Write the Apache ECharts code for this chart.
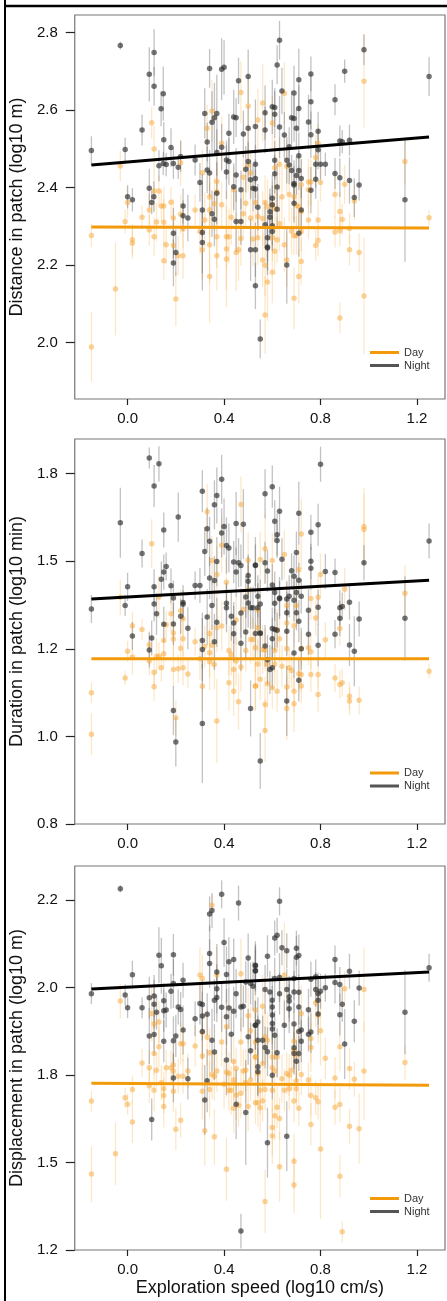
<!DOCTYPE html>
<html><head><meta charset="utf-8">
<script src="https://cdn.jsdelivr.net/npm/echarts@6/dist/echarts.min.js"></script>
<style>html,body{margin:0;padding:0;background:#fff}#c{width:447px;height:1301px}</style>
</head><body><div id="c"></div>
<script>
// ---- Data: each point = [exploration speed, mean, half error bar] ----
const xTicks = [0.0, 0.4, 0.8, 1.2];
const xTickLabels = ['0.0', '0.4', '0.8', '1.2'];
const yTicks1 = [2.0, 2.2, 2.4, 2.6, 2.8];
const yTickLabels1 = ['2.0', '2.2', '2.4', '2.6', '2.8'];
const yTicks2 = [0.75, 1.0, 1.25, 1.5, 1.75];
const yTickLabels2 = ['0.8', '1.0', '1.2', '1.5', '1.8'];
const yTicks3 = [1.25, 1.5, 1.75, 2.0, 2.25];
const yTickLabels3 = ['1.2', '1.5', '1.8', '2.0', '2.2'];
const yTitles = ['Distance in patch (log10 m)', 'Duration in patch (log10 min)', 'Displacement in patch (log10 m)'];
const xTitle = 'Exploration speed (log10 cm/s)';
const groups = ['Day', 'Night'];

const distNight = [[-0.15,2.495,0.037],[-0.03,2.766,0.01],[-0.01,2.498,0.03],[0.0,2.376,0.03],[0.02,2.368,0.03],[0.06,2.548,0.04],[0.09,2.692,0.07],[0.11,2.748,0.06],[0.11,2.661,0.05],[0.148,2.642,0.07],[0.139,2.603,0.045],[0.15,2.523,0.045],[0.09,2.398,0.05],[0.10,2.361,0.03],[0.109,2.376,0.04],[0.13,2.456,0.04],[0.148,2.462,0.03],[0.16,2.459,0.03],[0.18,2.503,0.05],[0.19,2.462,0.04],[0.21,2.452,0.03],[0.22,2.48,0.04],[0.19,2.282,0.065],[0.20,2.232,0.06],[0.19,2.205,0.06],[0.23,2.352,0.045],[0.23,2.327,0.04],[0.25,2.321,0.06],[0.28,2.471,0.04],[0.30,2.413,0.05],[0.31,2.342,0.07],[0.31,2.284,0.15],[0.31,2.258,0.08],[0.32,2.591,0.065],[0.33,2.517,0.05],[0.33,2.445,0.06],[0.34,2.437,0.06],[0.34,2.707,0.05],[0.35,2.568,0.08],[0.36,2.58,0.09],[0.37,2.591,0.1],[0.35,2.332,0.06],[0.36,2.318,0.07],[0.37,2.49,0.06],[0.37,2.385,0.08],[0.39,2.705,0.08],[0.40,2.71,0.07],[0.39,2.504,0.06],[0.41,2.471,0.05],[0.42,2.467,0.06],[0.41,2.44,0.07],[0.42,2.54,0.05],[0.44,2.582,0.07],[0.45,2.58,0.05],[0.44,2.402,0.06],[0.45,2.432,0.07],[0.45,2.312,0.08],[0.47,2.312,0.06],[0.46,2.675,0.06],[0.48,2.538,0.06],[0.47,2.394,0.05],[0.49,2.447,0.06],[0.50,2.686,0.07],[0.50,2.553,0.06],[0.51,2.239,0.08],[0.50,2.467,0.05],[0.52,2.398,0.06],[0.51,2.42,0.05],
[0.63,2.78,0.05],[0.62,2.716,0.05],[0.64,2.649,0.06],[0.69,2.644,0.07],[0.71,2.678,0.08],[0.76,2.693,0.045],[0.76,2.621,0.07],[0.71,2.604,0.06],[0.69,2.578,0.06],[0.70,2.553,0.05],[0.68,2.58,0.07],[0.75,2.569,0.07],[0.76,2.536,0.06],[0.79,2.545,0.05],[0.63,2.556,0.08],[0.65,2.535,0.06],[0.60,2.608,0.07],[0.61,2.589,0.06],[0.57,2.593,0.07],[0.57,2.548,0.06],[0.53,2.557,0.07],[0.61,2.606,0.05],[0.86,2.626,0.04],[0.90,2.70,0.03],[0.98,2.755,0.04],[1.25,2.686,0.05],[0.88,2.52,0.04],[0.89,2.518,0.03],[0.92,2.522,0.04],[0.79,2.497,0.05],[0.78,2.46,0.06],[0.80,2.46,0.04],[0.82,2.46,0.03],[0.78,2.421,0.05],[0.86,2.436,0.04],[0.88,2.425,0.05],[0.92,2.418,0.06],[0.96,2.406,0.04],[0.94,2.374,0.05],[1.15,2.368,0.16],[0.71,2.482,0.06],[0.71,2.444,0.05],[0.70,2.431,0.05],[0.67,2.505,0.05],[0.66,2.47,0.06],[0.67,2.458,0.05],[0.68,2.444,0.04],[0.72,2.423,0.05],[0.76,2.393,0.06],[0.69,2.41,0.06],[0.69,2.406,0.05],[0.69,2.359,0.05],[0.72,2.342,0.06],[0.71,2.282,0.06],[0.61,2.47,0.05],[0.61,2.435,0.05],[0.62,2.401,0.06],[0.60,2.372,0.06],[0.60,2.355,0.05],[0.59,2.337,0.06],[0.62,2.344,0.05],[0.59,2.323,0.06],[0.60,2.301,0.05],[0.60,2.286,0.05],[0.58,2.244,0.07],[0.66,2.20,0.1],[0.55,2.009,0.05],[0.53,2.146,0.06],[0.54,2.349,0.06],[0.53,2.396,0.05],[0.53,2.423,0.05],[0.53,2.46,0.05],[0.53,2.239,0.07],[0.58,2.27,0.06],[0.58,2.246,0.06],[0.57,2.304,0.06]];
const distDay = [[-0.15,2.276,0.03],[-0.15,1.988,0.09],[-0.05,2.138,0.12],[-0.03,2.455,0.04],[-0.01,2.312,0.03],[0.0,2.361,0.04],[0.02,2.265,0.04],[0.02,2.256,0.04],[0.06,2.323,0.03],[0.09,2.342,0.04],[0.10,2.567,0.04],[0.11,2.499,0.06],[0.11,2.391,0.05],[0.13,2.391,0.04],[0.12,2.311,0.05],[0.09,2.29,0.04],[0.11,2.273,0.05],[0.14,2.352,0.04],[0.15,2.352,0.05],[0.15,2.31,0.06],[0.16,2.252,0.05],[0.15,2.211,0.05],[0.18,2.362,0.04],[0.19,2.321,0.05],[0.19,2.25,0.06],[0.20,2.112,0.07],[0.21,2.224,0.05],[0.23,2.224,0.06],[0.22,2.464,0.06],[0.22,2.331,0.05],[0.23,2.293,0.05],[0.28,2.342,0.04],[0.30,2.286,0.06],[0.31,2.239,0.08],[0.31,2.438,0.06],[0.32,2.316,0.07],[0.33,2.553,0.06],[0.34,2.375,0.08],[0.34,2.342,0.07],[0.35,2.597,0.08],[0.34,2.252,0.1],[0.34,2.17,0.12],[0.36,2.358,0.07],[0.37,2.415,0.06],[0.37,2.389,0.06],[0.37,2.273,0.08],[0.37,2.224,0.09],[0.39,2.514,0.07],[0.39,2.355,0.06],[0.41,2.273,0.08],[0.42,2.273,0.07],[0.41,2.241,0.15],[0.41,2.215,0.08],[0.43,2.323,0.07],[0.44,2.394,0.06],[0.45,2.232,0.1],[0.46,2.239,0.08],[0.47,2.645,0.08],[0.47,2.268,0.07],[0.48,2.426,0.07],[0.49,2.359,0.06],[0.50,2.61,0.08],[0.50,2.457,0.07],[0.51,2.437,0.06],[0.51,2.321,0.07],[0.53,2.361,0.06],[0.52,2.267,0.07],[0.48,2.332,0.06],
[0.65,2.643,0.08],[0.56,2.618,0.1],[0.60,2.566,0.07],[0.54,2.574,0.08],[0.61,2.451,0.08],[0.63,2.46,0.07],[0.66,2.454,0.07],[0.78,2.477,0.06],[0.79,2.514,0.05],[0.76,2.414,0.06],[0.75,2.414,0.06],[0.80,2.413,0.05],[0.72,2.407,0.07],[0.64,2.376,0.08],[0.67,2.382,0.07],[0.69,2.376,0.06],[0.75,2.394,0.06],[0.90,2.408,0.05],[0.86,2.382,0.06],[0.94,2.365,0.05],[0.98,2.674,0.12],[1.15,2.467,0.06],[1.25,2.322,0.02],[0.88,2.338,0.05],[0.89,2.317,0.04],[0.57,2.361,0.07],[0.58,2.35,0.07],[0.60,2.355,0.06],[0.61,2.345,0.06],[0.70,2.354,0.06],[0.71,2.35,0.05],[0.72,2.338,0.06],[0.75,2.316,0.05],[0.79,2.316,0.05],[0.63,2.306,0.07],[0.60,2.299,0.06],[0.56,2.32,0.07],[0.54,2.325,0.06],[0.68,2.287,0.06],[0.69,2.275,0.05],[0.70,2.276,0.05],[0.72,2.286,0.05],[0.86,2.285,0.04],[0.88,2.288,0.04],[0.92,2.294,0.04],[0.54,2.27,0.07],[0.60,2.27,0.06],[0.62,2.265,0.06],[0.65,2.252,0.07],[0.78,2.251,0.04],[0.79,2.263,0.04],[0.92,2.239,0.04],[0.96,2.232,0.05],[0.61,2.235,0.06],[0.56,2.213,0.07],[0.57,2.199,0.08],[0.60,2.181,0.08],[0.72,2.209,0.06],[0.66,2.213,0.07],[0.71,2.17,0.07],[0.58,2.156,0.1],[0.69,2.114,0.08],[0.57,2.071,0.1],[0.88,2.063,0.04],[0.98,2.12,0.15]];

const durNight = [[-0.15,1.364,0.04],[-0.03,1.61,0.1],[-0.01,1.374,0.03],[0.0,1.427,0.04],[0.02,1.287,0.04],[0.06,1.522,0.04],[0.09,1.795,0.03],[0.13,1.778,0.05],[0.11,1.715,0.06],[0.15,1.589,0.05],[0.21,1.626,0.07],[0.16,1.485,0.04],[0.15,1.469,0.05],[0.14,1.449,0.05],[0.11,1.427,0.05],[0.11,1.378,0.05],[0.12,1.35,0.06],[0.10,1.281,0.05],[0.09,1.247,0.05],[0.15,1.32,0.05],[0.18,1.43,0.05],[0.19,1.395,0.05],[0.23,1.382,0.05],[0.23,1.377,0.04],[0.22,1.343,0.05],[0.19,1.321,0.06],[0.25,1.309,0.06],[0.19,1.074,0.07],[0.20,0.984,0.07],[0.28,1.431,0.04],[0.30,1.431,0.05],[0.31,1.70,0.06],[0.33,1.593,0.06],[0.34,1.557,0.07],[0.32,1.528,0.07],[0.37,1.688,0.08],[0.36,1.661,0.07],[0.39,1.734,0.07],[0.40,1.599,0.08],[0.39,1.581,0.07],[0.41,1.545,0.08],[0.42,1.538,0.07],[0.45,1.608,0.09],[0.48,1.606,0.1],[0.37,1.499,0.07],[0.34,1.452,0.06],[0.36,1.445,0.07],[0.44,1.498,0.06],[0.46,1.496,0.07],[0.47,1.488,0.06],[0.45,1.469,0.07],[0.35,1.374,0.07],[0.33,1.341,0.08],[0.31,1.274,0.08],[0.31,1.248,0.09],[0.36,1.27,0.08],[0.37,1.326,0.07],[0.41,1.38,0.06],[0.41,1.367,0.07],[0.43,1.343,0.07],[0.44,1.324,0.06],[0.44,1.293,0.08],[0.47,1.352,0.07],[0.47,1.266,0.08],[0.50,1.459,0.06],[0.50,1.443,0.07],[0.49,1.398,0.06],[0.50,1.381,0.07],[0.53,1.489,0.08],[0.51,1.367,0.06],[0.52,1.367,0.06],[0.54,1.367,0.07],[0.49,1.298,0.08],[0.53,1.294,0.07],[0.55,1.294,0.07],[0.31,1.037,0.17],[0.51,1.08,0.08],[0.55,0.93,0.08],
[0.60,1.713,0.06],[0.57,1.693,0.07],[0.63,1.643,0.07],[0.61,1.614,0.06],[0.62,1.576,0.06],[0.62,1.559,0.05],[0.71,1.637,0.09],[0.80,1.777,0.05],[0.79,1.604,0.06],[0.76,1.583,0.05],[0.70,1.525,0.06],[0.64,1.506,0.06],[0.57,1.496,0.06],[0.58,1.472,0.06],[0.53,1.488,0.06],[0.76,1.50,0.05],[0.76,1.48,0.06],[0.82,1.471,0.05],[0.86,1.468,0.04],[0.98,1.496,0.05],[1.25,1.558,0.05],[0.68,1.473,0.05],[0.69,1.457,0.06],[0.71,1.446,0.05],[0.60,1.432,0.06],[0.70,1.411,0.05],[0.72,1.40,0.05],[0.61,1.411,0.06],[0.61,1.38,0.05],[0.63,1.395,0.06],[0.63,1.393,0.05],[0.67,1.40,0.06],[0.66,1.392,0.05],[0.69,1.389,0.06],[0.54,1.40,0.06],[0.55,1.378,0.07],[0.66,1.353,0.06],[0.70,1.353,0.05],[0.71,1.329,0.06],[0.75,1.36,0.06],[0.79,1.369,0.05],[0.88,1.367,0.05],[0.89,1.371,0.04],[0.88,1.337,0.05],[0.92,1.383,0.05],[0.96,1.335,0.05],[1.15,1.337,0.12],[0.86,1.292,0.04],[0.92,1.261,0.06],[0.94,1.243,0.1],[0.79,1.26,0.06],[0.75,1.292,0.06],[0.69,1.238,0.07],[0.72,1.25,0.06],[0.66,1.30,0.07],[0.60,1.308,0.06],[0.61,1.305,0.06],[0.62,1.303,0.05],[0.55,1.295,0.07],[0.57,1.258,0.06],[0.60,1.279,0.06],[0.58,1.219,0.07],[0.59,1.191,0.07],[0.60,1.196,0.06],[0.71,1.16,0.06],[0.66,1.101,0.1]];
const durDay = [[-0.15,1.125,0.03],[-0.15,1.006,0.06],[-0.03,1.397,0.05],[-0.01,1.167,0.02],[0.0,1.243,0.03],[0.02,1.316,0.04],[0.02,1.227,0.05],[0.06,1.305,0.03],[0.09,1.262,0.04],[0.09,1.215,0.04],[0.10,1.55,0.07],[0.11,1.183,0.04],[0.11,1.142,0.04],[0.12,1.229,0.05],[0.13,1.229,0.04],[0.13,1.398,0.06],[0.14,1.196,0.04],[0.15,1.274,0.05],[0.15,1.236,0.04],[0.16,1.319,0.04],[0.18,1.35,0.05],[0.19,1.295,0.05],[0.19,1.278,0.05],[0.19,1.191,0.05],[0.21,1.193,0.04],[0.20,1.053,0.05],[0.22,1.359,0.06],[0.23,1.336,0.05],[0.22,1.252,0.05],[0.23,1.279,0.05],[0.23,1.196,0.05],[0.25,1.178,0.04],[0.28,1.27,0.04],[0.30,1.222,0.06],[0.31,1.143,0.07],[0.32,1.257,0.06],[0.33,1.641,0.08],[0.34,1.294,0.06],[0.34,1.239,0.07],[0.35,1.502,0.07],[0.34,1.213,0.08],[0.36,1.205,0.07],[0.35,1.26,0.06],[0.37,1.462,0.08],[0.37,1.31,0.07],[0.37,1.044,0.12],[0.39,1.546,0.08],[0.39,1.315,0.07],[0.41,1.44,0.07],[0.42,1.245,0.07],[0.43,1.234,0.06],[0.44,1.191,0.07],[0.45,1.215,0.07],[0.42,1.153,0.08],[0.44,1.129,0.07],[0.46,1.099,0.08],[0.47,1.662,0.08],[0.45,1.332,0.07],[0.48,1.362,0.06],[0.47,1.198,0.07],[0.50,1.503,0.08],[0.50,1.418,0.07],[0.49,1.245,0.06],[0.51,1.277,0.07],[0.52,1.277,0.06],[0.53,1.253,0.07],[0.53,1.144,0.07],[0.54,1.36,0.07],[0.55,1.505,0.08],
[0.57,1.536,0.1],[0.60,1.502,0.08],[0.65,1.519,0.07],[0.72,1.578,0.1],[0.71,1.476,0.07],[0.80,1.462,0.06],[0.98,1.599,0.11],[0.98,1.591,0.1],[0.90,1.42,0.06],[1.15,1.409,0.08],[1.25,1.186,0.02],[0.79,1.397,0.06],[0.76,1.394,0.06],[0.78,1.338,0.05],[0.88,1.308,0.05],[0.82,1.276,0.05],[0.66,1.374,0.07],[0.70,1.374,0.06],[0.69,1.316,0.06],[0.66,1.324,0.07],[0.62,1.304,0.06],[0.63,1.279,0.07],[0.54,1.31,0.07],[0.56,1.248,0.07],[0.57,1.247,0.06],[0.61,1.245,0.06],[0.66,1.25,0.06],[0.72,1.25,0.05],[0.75,1.253,0.05],[0.76,1.242,0.05],[0.54,1.207,0.07],[0.58,1.207,0.06],[0.61,1.207,0.06],[0.64,1.20,0.06],[0.67,1.196,0.06],[0.68,1.188,0.05],[0.71,1.179,0.05],[0.72,1.177,0.05],[0.76,1.177,0.05],[0.79,1.177,0.04],[0.86,1.167,0.04],[0.88,1.148,0.04],[0.89,1.153,0.04],[0.53,1.144,0.07],[0.55,1.163,0.06],[0.58,1.15,0.07],[0.60,1.139,0.06],[0.62,1.129,0.06],[0.66,1.141,0.06],[0.69,1.129,0.06],[0.72,1.144,0.05],[0.57,1.091,0.08],[0.79,1.12,0.05],[0.92,1.115,0.04],[0.92,1.101,0.04],[0.96,1.103,0.04],[0.66,1.08,0.09],[0.69,1.093,0.08],[0.57,1.017,0.09]];

const dispNight = [[-0.15,1.983,0.03],[-0.03,2.283,0.01],[-0.01,1.979,0.03],[0.0,1.943,0.03],[0.02,2.037,0.04],[0.06,1.943,0.03],[0.09,1.971,0.06],[0.09,1.862,0.08],[0.11,1.976,0.06],[0.11,1.953,0.07],[0.12,1.93,0.05],[0.11,1.866,0.06],[0.10,1.623,0.06],[0.13,2.093,0.08],[0.14,2.063,0.08],[0.15,1.963,0.05],[0.15,1.934,0.06],[0.16,1.936,0.05],[0.15,1.847,0.06],[0.18,1.99,0.05],[0.19,2.094,0.06],[0.19,2.012,0.07],[0.19,1.848,0.07],[0.20,1.862,0.06],[0.21,1.945,0.05],[0.22,1.938,0.05],[0.23,2.021,0.05],[0.23,1.879,0.07],[0.19,1.742,0.07],[0.25,1.74,0.06],[0.28,1.911,0.05],[0.30,1.955,0.06],[0.31,1.952,0.07],[0.31,1.919,0.07],[0.33,1.924,0.06],[0.31,1.875,0.08],[0.32,1.679,0.1],[0.33,1.734,0.09],[0.34,2.211,0.05],[0.35,2.221,0.05],[0.34,2.098,0.08],[0.34,2.069,0.07],[0.35,1.85,0.09],[0.36,1.816,0.08],[0.37,2.045,0.08],[0.37,1.997,0.07],[0.36,1.964,0.06],[0.37,1.972,0.07],[0.39,2.267,0.04],[0.40,2.129,0.07],[0.41,2.038,0.08],[0.42,2.074,0.07],[0.44,2.081,0.06],[0.39,1.944,0.07],[0.42,1.942,0.06],[0.44,1.933,0.07],[0.41,1.917,0.08],[0.43,1.867,0.08],[0.41,1.793,0.1],[0.45,1.983,0.07],[0.47,1.945,0.07],[0.48,1.947,0.06],[0.46,2.242,0.05],[0.50,2.085,0.07],[0.53,2.064,0.06],[0.53,2.048,0.07],[0.49,2.016,0.06],[0.51,2.012,0.06],[0.52,2.004,0.07],[0.50,1.86,0.08],[0.51,1.82,0.08],[0.53,1.893,0.07],[0.54,1.85,0.07],[0.54,1.774,0.08],[0.54,1.76,0.07],[0.45,1.667,0.1],[0.49,1.643,0.15],[0.47,1.304,0.05],
[0.63,2.247,0.04],[0.61,2.142,0.05],[0.62,2.15,0.05],[0.64,2.114,0.05],[0.66,2.106,0.05],[0.70,2.113,0.05],[0.70,2.087,0.06],[0.71,2.092,0.06],[0.58,2.09,0.06],[0.53,2.063,0.07],[0.53,2.049,0.06],[0.86,2.081,0.04],[0.92,2.047,0.05],[1.25,2.057,0.04],[0.63,2.029,0.07],[0.61,2.026,0.06],[0.69,2.026,0.06],[0.76,2.024,0.05],[0.78,2.031,0.05],[0.86,2.015,0.06],[0.88,2.009,0.05],[0.96,1.999,0.05],[0.82,2.0,0.04],[0.80,1.99,0.05],[0.79,1.983,0.06],[0.78,1.995,0.05],[0.59,1.988,0.06],[0.57,1.995,0.07],[0.66,1.995,0.06],[0.69,1.988,0.06],[0.71,1.987,0.05],[0.63,1.983,0.06],[0.67,1.974,0.06],[0.67,1.94,0.07],[0.67,1.962,0.06],[0.60,1.964,0.07],[0.60,1.945,0.06],[0.75,1.937,0.06],[0.71,1.945,0.05],[0.79,1.964,0.07],[0.89,1.953,0.05],[0.88,1.923,0.06],[0.79,1.925,0.06],[0.94,1.904,0.06],[1.15,1.93,0.12],[0.60,1.922,0.07],[0.60,1.898,0.06],[0.65,1.893,0.07],[0.69,1.896,0.06],[0.60,1.882,0.06],[0.61,1.864,0.07],[0.71,1.875,0.06],[0.72,1.879,0.06],[0.76,1.873,0.06],[0.75,1.867,0.05],[0.72,1.847,0.06],[0.54,1.902,0.07],[0.53,1.893,0.07],[0.56,1.85,0.07],[0.57,1.829,0.06],[0.58,1.817,0.07],[0.69,1.828,0.06],[0.69,1.812,0.06],[0.70,1.79,0.06],[0.71,1.812,0.05],[0.90,1.839,0.1],[0.62,1.814,0.07],[0.60,1.75,0.07],[0.58,1.557,0.1],[0.66,1.575,0.1]];
const dispDay = [[-0.15,1.676,0.03],[-0.15,1.467,0.08],[-0.05,1.525,0.09],[-0.03,1.962,0.05],[-0.01,1.685,0.03],[0.0,1.667,0.03],[0.02,1.709,0.04],[0.02,1.616,0.06],[0.06,1.785,0.04],[0.09,1.771,0.05],[0.09,1.72,0.05],[0.10,1.926,0.08],[0.11,1.896,0.07],[0.11,1.812,0.06],[0.11,1.707,0.06],[0.13,1.902,0.06],[0.12,1.764,0.05],[0.13,1.831,0.06],[0.14,1.728,0.05],[0.15,1.711,0.05],[0.15,1.692,0.05],[0.15,1.66,0.06],[0.16,1.771,0.05],[0.18,1.771,0.05],[0.19,1.779,0.06],[0.19,1.762,0.05],[0.19,1.704,0.06],[0.20,1.595,0.06],[0.22,1.621,0.05],[0.21,1.747,0.05],[0.23,1.747,0.05],[0.22,1.84,0.06],[0.23,1.84,0.05],[0.25,1.762,0.05],[0.28,1.833,0.06],[0.30,2.036,0.08],[0.31,2.026,0.07],[0.31,1.872,0.07],[0.31,1.805,0.07],[0.31,1.704,0.08],[0.32,1.591,0.1],[0.33,1.858,0.08],[0.34,1.814,0.07],[0.34,1.709,0.08],[0.35,2.236,0.03],[0.35,1.752,0.07],[0.36,1.747,0.07],[0.37,1.762,0.06],[0.37,2.036,0.08],[0.36,1.574,0.08],[0.39,1.845,0.07],[0.40,1.724,0.07],[0.42,1.707,0.06],[0.41,1.888,0.08],[0.41,1.758,0.07],[0.42,1.755,0.06],[0.41,1.481,0.09],[0.43,1.707,0.07],[0.44,1.736,0.06],[0.44,1.789,0.07],[0.45,1.769,0.06],[0.45,1.693,0.07],[0.44,1.655,0.07],[0.46,1.664,0.06],[0.47,1.845,0.07],[0.47,1.698,0.07],[0.48,1.762,0.06],[0.49,1.764,0.06],[0.50,1.92,0.08],[0.51,1.877,0.07],[0.49,1.729,0.06],[0.51,1.736,0.06],[0.50,1.66,0.07],[0.53,1.671,0.06],[0.53,1.802,0.07],[0.53,1.936,0.07],[0.47,2.04,0.1],
[0.65,2.036,0.15],[0.56,1.947,0.09],[0.72,1.926,0.08],[0.78,1.957,0.07],[0.79,1.921,0.08],[0.80,1.877,0.1],[0.90,1.997,0.05],[0.98,1.995,0.12],[0.57,1.86,0.08],[0.58,1.85,0.08],[0.53,1.845,0.08],[0.53,1.802,0.07],[0.69,1.847,0.08],[0.69,1.821,0.07],[0.70,1.807,0.07],[0.76,1.855,0.07],[0.76,1.829,0.07],[0.60,1.802,0.07],[0.62,1.802,0.06],[0.88,1.831,0.07],[0.82,1.798,0.06],[1.15,1.786,0.05],[0.92,1.769,0.06],[0.98,1.762,0.14],[0.94,1.738,0.05],[0.86,1.742,0.06],[0.56,1.783,0.07],[0.60,1.771,0.07],[0.61,1.762,0.06],[0.64,1.74,0.07],[0.66,1.755,0.06],[0.67,1.75,0.06],[0.68,1.764,0.06],[0.70,1.734,0.06],[0.72,1.752,0.06],[0.75,1.736,0.05],[0.54,1.755,0.07],[0.55,1.707,0.07],[0.57,1.709,0.06],[0.60,1.707,0.06],[0.65,1.707,0.06],[0.67,1.711,0.06],[0.70,1.711,0.05],[0.54,1.671,0.07],[0.56,1.677,0.06],[0.55,1.657,0.07],[0.62,1.658,0.06],[0.69,1.676,0.06],[0.71,1.655,0.05],[0.76,1.692,0.06],[0.78,1.685,0.05],[0.79,1.674,0.05],[0.86,1.658,0.05],[0.88,1.666,0.05],[0.61,1.634,0.07],[0.63,1.626,0.06],[0.60,1.60,0.08],[0.60,1.576,0.08],[0.76,1.609,0.06],[0.92,1.604,0.05],[0.96,1.597,0.1],[0.63,1.488,0.1],[0.69,1.504,0.08],[0.80,1.539,0.2],[0.69,1.436,0.08],[0.88,1.461,0.06],[0.57,1.389,0.09],[0.89,1.302,0.03]];

// fitted lines: [x, y] endpoints
const fitDistDay = [[-0.15,2.298],[1.25,2.295]];
const fitDistNight = [[-0.15,2.458],[1.25,2.530]];
const fitDurDay = [[-0.15,1.222],[1.25,1.222]];
const fitDurNight = [[-0.15,1.392],[1.25,1.446]];
const fitDispDay = [[-0.15,1.727],[1.25,1.721]];
const fitDispNight = [[-0.15,1.996],[1.25,2.045]];

// ---- Styling / layout ----
const FONT = 'Liberation Sans, Arial, sans-serif';
const DAY_LINE = '#F39A0B', NIGHT_LINE = '#000000';
const DAY_PT = 'rgba(247,166,52,0.62)', NIGHT_PT = 'rgba(45,45,45,0.82)';
const DAY_ERR = 'rgba(250,185,100,0.35)', NIGHT_ERR = 'rgba(110,110,110,0.42)';
const grids = [{top:15,height:384},{top:439,height:385},{top:866,height:384}];
const yRanges = [[1.854,2.845],[0.75,1.849],[1.25,2.348]];
const yT = [yTicks1,yTicks2,yTicks3], yL = [yTickLabels1,yTickLabels2,yTickLabels3];
const legendTops = [347, 767.5, 1193];

const panels = [
  {day:distDay, night:distNight, fd:fitDistDay, fn:fitDistNight},
  {day:durDay, night:durNight, fd:fitDurDay, fn:fitDurNight},
  {day:dispDay, night:dispNight, fd:fitDispDay, fn:fitDispNight}
];

function errSeries(data, color, i){
  return {type:'custom', xAxisIndex:i, yAxisIndex:i, z:1, silent:true, clip:true,
    data:data, encode:{x:0,y:1},
    renderItem:function(params, api){
      const x=api.value(0), y=api.value(1), e=api.value(2);
      const a=api.coord([x,y-e]), b=api.coord([x,y+e]);
      return {type:'line', shape:{x1:a[0],y1:a[1],x2:b[0],y2:b[1]}, style:{stroke:color,lineWidth:1.3}};
    }};
}

const option = {
  animation:false,
  backgroundColor:'#fff',
  textStyle:{fontFamily:FONT},
  grid: grids.map(g=>({left:70, width:375, top:g.top, height:g.height, show:true, borderColor:'#777', borderWidth:1.2, backgroundColor:'transparent'})),
  xAxis: grids.map((g,i)=>({type:'value', gridIndex:i, min:-0.219, max:1.316, position:'bottom',
    axisLine:{show:false, onZero:false}, splitLine:{show:false},
    axisTick:{show:true, inside:false, customValues:xTicks, length:6, lineStyle:{color:'#222',width:1.2}},
    axisLabel:{show:true, customValues:xTicks, margin:12, fontSize:15, color:'#111', fontFamily:FONT,
      formatter:v=>{const k=xTicks.findIndex(t=>Math.abs(t-v)<1e-6);return k>=0?xTickLabels[k]:'';}},
    name: i===2?xTitle:'', nameLocation:'middle', nameGap:29,
    nameTextStyle:{fontSize:18,color:'#111',fontFamily:FONT}})),
  yAxis: grids.map((g,i)=>({type:'value', gridIndex:i, min:yRanges[i][0], max:yRanges[i][1], position:'left',
    axisLine:{show:false, onZero:false}, splitLine:{show:false},
    axisTick:{show:true, inside:false, customValues:yT[i], length:9, lineStyle:{color:'#222',width:1.2}},
    axisLabel:{show:true, customValues:yT[i], margin:17, fontSize:15, color:'#111', fontFamily:FONT,
      formatter:v=>{const k=yT[i].findIndex(t=>Math.abs(t-v)<1e-6);return k>=0?yL[i][k]:'';}},
    name:yTitles[i], nameLocation:'middle', nameGap:40, nameRotate:90,
    nameTextStyle:{fontSize:18,color:'#111',fontFamily:FONT}})),
  legend: legendTops.map(t=>({show:true, orient:'vertical', left:370, top:t, itemWidth:29, itemHeight:3, itemGap:2,
    padding:0, selectedMode:false, textStyle:{fontSize:11,color:'#333',fontFamily:FONT},
    data:[{name:groups[0], icon:'rect', itemStyle:{color:DAY_LINE}},{name:groups[1], icon:'rect', itemStyle:{color:'#555'}}]})),
  series: []
};

panels.forEach((p,i)=>{
  option.series.push(errSeries(p.day, DAY_ERR, i));
  option.series.push(errSeries(p.night, NIGHT_ERR, i));
  option.series.push({type:'scatter', name:'Day points', xAxisIndex:i, yAxisIndex:i, z:2, symbolSize:5.5,
    data:p.day.map(d=>[d[0],d[1]]), itemStyle:{color:DAY_PT}, silent:true});
  option.series.push({type:'scatter', name:'Night points', xAxisIndex:i, yAxisIndex:i, z:3, symbolSize:5.5,
    data:p.night.map(d=>[d[0],d[1]]), itemStyle:{color:NIGHT_PT}, silent:true});
  option.series.push({type:'line', name:groups[0], xAxisIndex:i, yAxisIndex:i, z:4, symbol:'none',
    data:p.fd, lineStyle:{color:DAY_LINE,width:3}, itemStyle:{color:DAY_LINE}, silent:true});
  option.series.push({type:'line', name:groups[1], xAxisIndex:i, yAxisIndex:i, z:5, symbol:'none',
    data:p.fn, lineStyle:{color:NIGHT_LINE,width:3}, itemStyle:{color:NIGHT_LINE}, silent:true});
});

option.graphic = [
  {type:'line', shape:{x1:5,y1:0,x2:5,y2:1301}, style:{stroke:'#000',lineWidth:2}, silent:true},
  {type:'line', shape:{x1:4,y1:6,x2:447,y2:6}, style:{stroke:'#000',lineWidth:2.5}, silent:true}
];

const chart = echarts.init(document.getElementById('c'), null, {renderer:'canvas'});
chart.setOption(option);
</script>
</body></html>
